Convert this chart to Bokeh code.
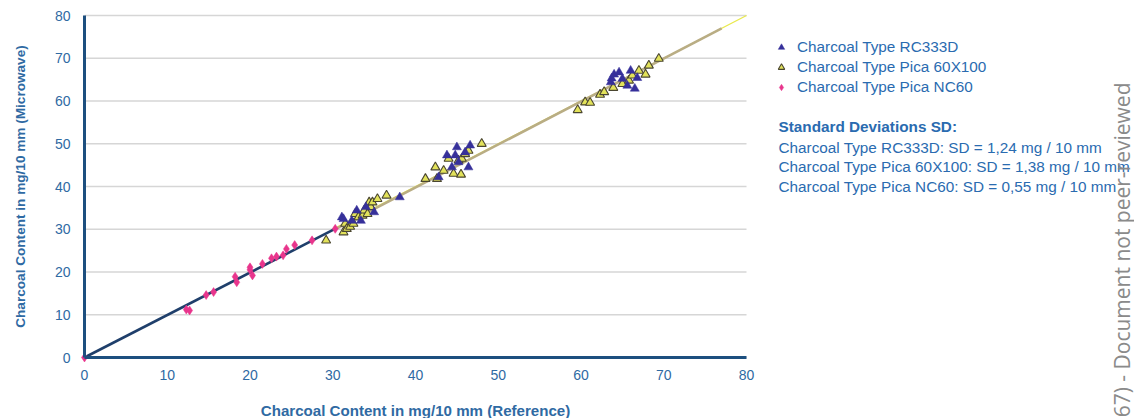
import math
from bokeh.plotting import figure
from bokeh.models import Range1d, Legend, LegendItem, Label, FixedTicker
from bokeh.embed import file_html
from bokeh.resources import INLINE

# ---------------- data ----------------
rc_x = [31.1, 31.3, 32.3, 32.9, 33.4, 34.0, 35.0, 38.1, 42.8, 43.8, 44.4, 44.8,
        45.0, 45.2, 46.0, 46.4, 46.6, 63.6, 63.7, 64.0, 64.6, 65.0, 65.6, 66.0,
        66.5, 66.8]
rc_y = [32.8, 32.4, 32.0, 34.4, 32.0, 35.2, 34.0, 37.5, 42.2, 47.3, 44.5, 47.3,
        49.2, 45.7, 48.0, 44.5, 49.6, 64.4, 65.3, 66.2, 66.7, 65.2, 63.6, 67.1,
        62.9, 65.4]

pica_x = [29.2, 31.3, 31.5, 31.7, 32.1, 32.5, 32.7, 33.1, 33.6, 33.8, 34.2, 34.4,
          34.6, 34.8, 35.4, 36.5, 41.2, 42.4, 42.6, 43.4, 44.0, 44.6, 45.2, 45.5,
          45.6, 46.0, 46.4, 48.0, 59.6, 60.5, 61.1, 62.3, 62.8, 63.9, 65.0, 65.8,
          66.2, 67.0, 67.8, 68.2, 69.4]
pica_y = [27.4, 29.3, 31.3, 30.1, 30.6, 31.3, 33.6, 32.8, 33.2, 34.4, 33.6, 36.3,
          35.2, 36.3, 37.1, 37.9, 41.8, 44.5, 41.8, 43.7, 46.5, 43.0, 46.1, 42.8,
          46.5, 47.6, 48.4, 50.0, 57.9, 59.7, 59.6, 61.5, 62.1, 63.1, 64.0, 64.8,
          66.0, 67.1, 66.2, 68.3, 69.9]

nc_x = [0.0, 12.3, 12.7, 14.7, 15.6, 18.2, 18.4, 20.0, 20.0, 20.3, 21.5, 22.6,
        23.2, 24.0, 24.4, 25.4, 27.5, 30.3]
nc_y = [0.0, 11.2, 11.0, 14.6, 15.3, 18.9, 17.6, 21.1, 20.5, 19.2, 21.9, 23.2,
        23.6, 23.9, 25.4, 26.3, 27.4, 30.1]

nc_fit_x = [0.0, 30.5]
nc_fit_y = [0.0, 30.3]
pica_fit_x = [30.5, 77.0]
pica_fit_y = [30.2, 77.0]
rc_fit_x = [30.0, 80.0]
rc_fit_y = [30.0, 80.0]

ticks = [0, 10, 20, 30, 40, 50, 60, 70, 80]

series_labels = ["Charcoal Type RC333D", "Charcoal Type Pica 60X100",
                 "Charcoal Type Pica NC60"]
sd_title = "Standard Deviations SD:"
sd_lines = ["Charcoal Type RC333D: SD = 1,24 mg / 10 mm",
            "Charcoal Type Pica 60X100: SD = 1,38 mg / 10 mm",
            "Charcoal Type Pica NC60: SD = 0,55 mg / 10 mm"]
x_title = "Charcoal Content in mg/10 mm (Reference)"
y_title = "Charcoal Content in mg/10 mm (Microwave)"
watermark = "67) - Document not peer-reviewed"

# ---------------- layout / styles ----------------
FONT = "Liberation Sans"
TXT = "#2f6aa3"
TXT2 = "#2a6bb0"
AXIS = "#1d4f7f"

W, H = 1134, 418
OX, OY = 84, 357          # pixel position of the data origin
SX = 662 / 80             # pixels per data unit, x
SY = 342 / 80             # pixels per data unit, y


def dx(px):
    return (px - OX) / SX


def dy(py):
    return (OY - py) / SY


p = figure(width=W, height=H, output_backend="svg", toolbar_location=None,
           x_range=Range1d(dx(0), dx(W)), y_range=Range1d(dy(H), dy(0)),
           min_border=0)
p.outline_line_color = None
p.background_fill_color = "white"
p.border_fill_color = "white"
p.xgrid.grid_line_color = None
p.ygrid.grid_line_color = None

for ax in (p.xaxis, p.yaxis):
    ax.ticker = FixedTicker(ticks=ticks)
    ax.bounds = (ticks[0], ticks[-1])
    ax.fixed_location = 0
    ax.axis_line_color = AXIS
    ax.axis_line_width = 3
    ax.major_tick_line_color = None
    ax.minor_tick_line_color = None
    ax.major_label_text_color = TXT
    ax.major_label_text_font = FONT
    ax.major_label_text_font_size = "14px"
p.xaxis.major_label_standoff = 6
p.yaxis.major_label_standoff = 8

# horizontal grid lines limited to the 0..80 span
p.segment(x0=[ticks[0]] * len(ticks), y0=ticks, x1=[ticks[-1]] * len(ticks),
          y1=ticks, line_color="#d6d6d6", line_width=1.5, level="underlay")

# fit lines
p.line(rc_fit_x, rc_fit_y, line_color="#e9e94c", line_width=1.3)
p.line(pica_fit_x, pica_fit_y, line_color="#b9ad84", line_width=2.6)
p.line(nc_fit_x, nc_fit_y, line_color="#1f3f6b", line_width=2.6)

# points
r_nc = p.scatter(nc_x, nc_y, marker="diamond", size=9, fill_color="#e8358c",
                 line_color="#e8358c", line_width=0.5)
r_pica = p.scatter(pica_x, pica_y, marker="triangle", size=9, fill_color="#e2e25a",
                   line_color="#4a4630", line_width=1.1)
r_rc = p.scatter(rc_x, rc_y, marker="triangle", size=9, fill_color="#36309a",
                 line_color="#36309a", line_width=0.5)

# axis titles
p.add_layout(Label(x=(ticks[0] + ticks[-1]) / 2, y=dy(410), text=x_title,
                   text_font=FONT, text_font_size="15.1px", text_font_style="bold",
                   text_color=TXT, text_align="center", text_baseline="middle"))
p.add_layout(Label(x=dx(20), y=(ticks[0] + ticks[-1]) / 2, text=y_title,
                   angle=math.pi / 2, text_font=FONT, text_font_size="13.6px",
                   text_font_style="bold", text_color=TXT, text_align="center",
                   text_baseline="middle"))

legend = Legend(items=[LegendItem(label=series_labels[0], renderers=[r_rc]),
                       LegendItem(label=series_labels[1], renderers=[r_pica]),
                       LegendItem(label=series_labels[2], renderers=[r_nc])],
                location=(773, H - 97))
legend.label_text_font = FONT
legend.label_text_font_size = "15.3px"
legend.label_text_color = TXT2
legend.label_height = 20
legend.glyph_height = 20
legend.glyph_width = 16
legend.label_standoff = 8
legend.spacing = 0
legend.padding = 0
legend.margin = 0
legend.border_line_color = None
legend.background_fill_alpha = 0
p.add_layout(legend, "center")

# standard deviation notes
p.add_layout(Label(x=dx(778), y=dy(126), text=sd_title, text_font=FONT,
                   text_font_size="15.3px", text_font_style="bold",
                   text_color=TXT2, text_baseline="middle"))
for i, s in enumerate(sd_lines):
    p.add_layout(Label(x=dx(778), y=dy(146.5 + i * 19.6), text=s, text_font=FONT,
                       text_font_size="15.3px", text_color=TXT2,
                       text_baseline="middle"))

# watermark
p.add_layout(Label(x=dx(1121), y=dy(82), text=watermark, angle=math.pi / 2,
                   text_align="right", text_baseline="middle", text_font="Open Sans",
                   text_font_size="21px", text_color="#8a8a8a"))

open("out.html", "w").write(file_html(p, INLINE))
